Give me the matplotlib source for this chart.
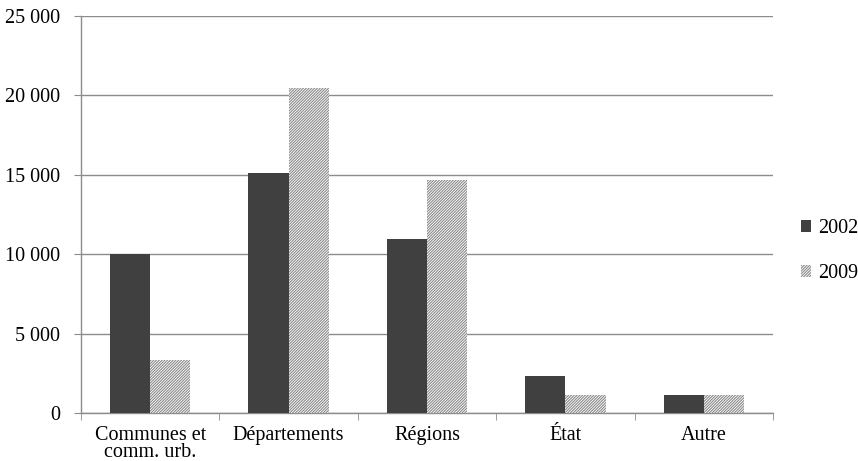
import matplotlib
matplotlib.use("Agg")
import matplotlib.pyplot as plt
import numpy as np
from matplotlib.patches import Patch
from matplotlib.ticker import FuncFormatter, FixedLocator

plt.rcParams['font.family'] = ['Liberation Serif', 'DejaVu Serif']
plt.rcParams['hatch.linewidth'] = 0.8
plt.rcParams['hatch.color'] = "#8a8a8a"

categories = ["Communes et\ncomm. urb.", "Départements", "Régions", "État", "Autre"]
series_names = ["2002", "2009"]
values_2002 = [10000, 15150, 10950, 2350, 1170]
values_2009 = [3350, 20500, 14700, 1170, 1170]
y_ticks = [0, 5000, 10000, 15000, 20000, 25000]

FS = 14.5
HATCH = "/" * 12

fig = plt.figure(figsize=(8.58, 4.61), dpi=100)
ax = fig.add_axes([0.0944, 0.1035, 0.8066, 0.8618])

x = np.arange(len(categories))
w = 0.29
ax.bar(x - w / 2, values_2002, w, color="#404040", linewidth=0, zorder=3)
ax.bar(x + w / 2, values_2009, w, color="white", edgecolor="#8a8a8a",
       hatch=HATCH, linewidth=0, zorder=3)

ax.set_xlim(-0.5, len(categories) - 0.5)
ax.set_ylim(0, 25000)
ax.set_yticks(y_ticks)
ax.yaxis.set_major_formatter(FuncFormatter(lambda v, p: f"{int(v):,}".replace(",", " ")))
ax.yaxis.grid(True, color="#8c8c8c", linewidth=1.0, zorder=0)
ax.set_axisbelow(True)

ax.set_xticks(x)
ax.set_xticklabels(categories, fontsize=FS, linespacing=0.88)
ax.xaxis.set_minor_locator(FixedLocator(np.arange(len(categories) + 1) - 0.5))
ax.tick_params(axis="x", which="major", length=0, pad=9)
ax.tick_params(axis="x", which="minor", length=5, color="#8c8c8c", direction="out")
ax.tick_params(axis="y", length=5, color="#8c8c8c", labelsize=FS, pad=10)

for s in ["top", "right"]:
    ax.spines[s].set_visible(False)
for s in ["left", "bottom"]:
    ax.spines[s].set_color("#8c8c8c")
    ax.spines[s].set_linewidth(1.0)

handles = [Patch(facecolor="#404040", linewidth=0),
           Patch(facecolor="white", hatch=HATCH, edgecolor="#8a8a8a", linewidth=0)]
fig.legend(handles, series_names, loc="center left", bbox_to_anchor=(0.933, 0.455),
           frameon=False, fontsize=FS, handlelength=0.5, handleheight=0.5,
           handletextpad=0.35, labelspacing=1.3, borderpad=0, borderaxespad=0)

fig.savefig("out.png", dpi=100)
